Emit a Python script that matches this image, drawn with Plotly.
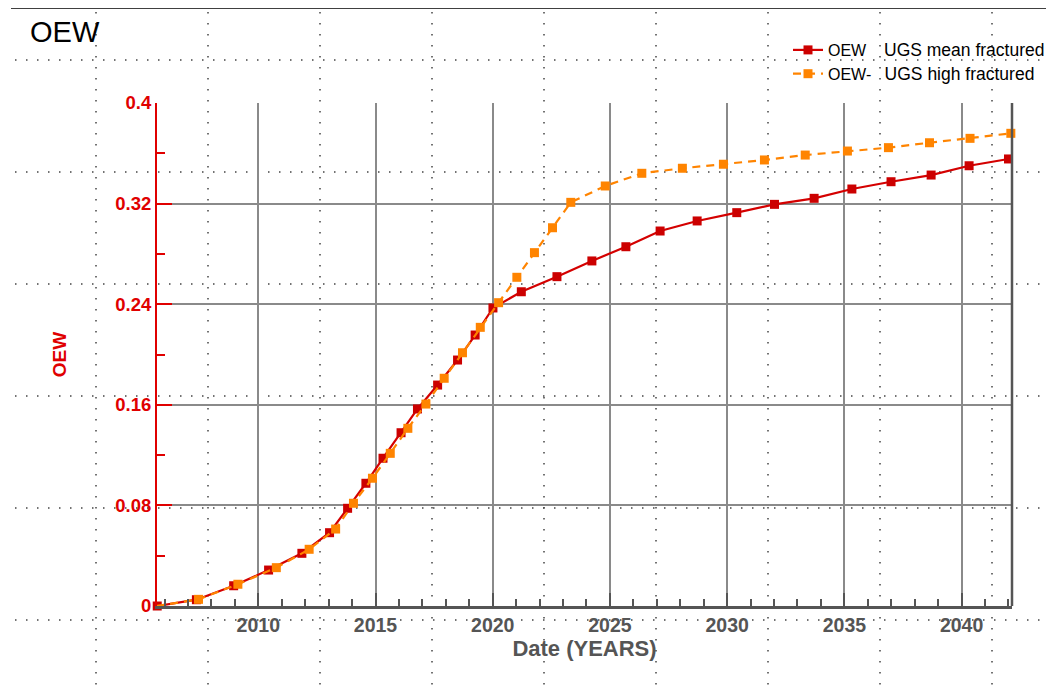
import plotly.graph_objects as go

# ---- data (decimal years, OEW fraction) ----
mean_years = [2005.69, 2007.36, 2008.95, 2010.44, 2011.86, 2013.04, 2013.81, 2014.59,
              2015.32, 2016.09, 2016.79, 2017.65, 2018.50, 2019.25, 2020.01, 2021.22,
              2022.74, 2024.23, 2025.68, 2027.14, 2028.72, 2030.41, 2032.02, 2033.71,
              2035.32, 2036.99, 2038.70, 2040.32, 2042.00]
mean_oew = [0.0, 0.005, 0.0161, 0.0286, 0.0419, 0.0583, 0.0777, 0.0976,
            0.1175, 0.1378, 0.1567, 0.1757, 0.1956, 0.2155, 0.2370, 0.2499,
            0.2619, 0.2744, 0.2857, 0.2982, 0.3062, 0.3128, 0.3194, 0.3242,
            0.3316, 0.3374, 0.3427, 0.3501, 0.3555]

high_years = [2005.65, 2007.45, 2009.13, 2010.77, 2012.17, 2013.30, 2014.06, 2014.87,
              2015.63, 2016.38, 2017.15, 2017.93, 2018.71, 2019.47, 2020.25, 2021.03,
              2021.78, 2022.55, 2023.33, 2024.80, 2026.36, 2028.09, 2029.84, 2031.59,
              2033.33, 2035.13, 2036.88, 2038.63, 2040.36, 2042.10]
high_oew = [0.0, 0.0053, 0.0173, 0.0305, 0.0451, 0.0612, 0.0817, 0.1016,
            0.1214, 0.1413, 0.1606, 0.1811, 0.2014, 0.2216, 0.2412, 0.2614,
            0.2810, 0.3008, 0.3210, 0.3340, 0.3441, 0.3481, 0.3513, 0.3547,
            0.3586, 0.3618, 0.3645, 0.3684, 0.3719, 0.3759]

series_names = [
    "OEW\u00a0\u00a0\u00a0\u00a0<span style='font-size:17.5px'>UGS mean fractured</span>",
    "OEW-\u00a0\u00a0\u00a0<span style='font-size:17.5px'>UGS high fractured</span>",
]

# ---- layout constants (reference-page pixels) ----
PAGE_OFF = 8                      # browser body margin
W, H = 1054, 693
L, R, T, B = 157, 1012, 103, 606
X_RANGE = [2005.68, 2042.15]
Y_RANGE = [0, 0.4]

RED = "#d40000"
RED_TXT = "#e00000"
ORANGE = "#ff8400"
GREY = "#555555"
GRID = "#8a8a8a"
FONT = "Arial, Liberation Sans, sans-serif"


def px_x(px):
    return (px - L) / (R - L)


def px_y(py):
    return (B - py) / (B - T)


fig = go.Figure()
fig.add_trace(go.Scatter(
    x=mean_years, y=mean_oew, name=series_names[0], mode="lines+markers",
    line=dict(color=RED, width=2.2),
    marker=dict(symbol="square", size=9, color="#cc0000"),
    cliponaxis=False,
))
fig.add_trace(go.Scatter(
    x=high_years, y=high_oew, name=series_names[1], mode="lines+markers",
    line=dict(color=ORANGE, width=2.2, dash="8px,6px"),
    marker=dict(symbol="square", size=9, color=ORANGE),
    cliponaxis=False,
))

shapes = []
# page dotted overlay grid
DOT_X0, DOT_Y0, DOT_STEP = 96, 60, 112
dot_line = dict(color="#444444", width=1.5, dash="1.5px,9.5px")
for k in range(9):
    xp = DOT_X0 + k * DOT_STEP
    shapes.append(dict(type="line", xref="paper", yref="paper", layer="below",
                       x0=px_x(xp), x1=px_x(xp), y0=px_y(12), y1=px_y(H),
                       line=dot_line))
for k in range(6):
    yp = DOT_Y0 + k * DOT_STEP
    shapes.append(dict(type="line", xref="paper", yref="paper", layer="below",
                       x0=px_x(15), x1=px_x(W), y0=px_y(yp), y1=px_y(yp),
                       line=dot_line))
# top black rule
shapes.append(dict(type="line", xref="paper", yref="paper",
                   x0=px_x(11), x1=px_x(W), y0=px_y(8), y1=px_y(8),
                   line=dict(color="#000000", width=1.5)))
# right frame edge
shapes.append(dict(type="line", xref="paper", yref="paper",
                   x0=1, x1=1, y0=0, y1=1,
                   line=dict(color=GREY, width=2.5)))

FW, FH = W - PAGE_OFF, H - PAGE_OFF
fig.update_layout(
    width=FW, height=FH,
    margin=dict(l=L - PAGE_OFF, r=W - R, t=T - PAGE_OFF, b=H - B, autoexpand=False),
    paper_bgcolor="white", plot_bgcolor="rgba(0,0,0,0)",
    font=dict(family=FONT),
    title=dict(text="OEW", font=dict(size=29, color="#000000", family=FONT),
               xref="container", yref="container", x=(30 - PAGE_OFF) / FW, xanchor="left",
               y=1 - (32 - PAGE_OFF) / FH, yanchor="middle"),
    showlegend=True,
    legend=dict(x=px_x(788), y=px_y(33), xanchor="left", yanchor="top",
                bgcolor="rgba(0,0,0,0)", font=dict(size=16, color="#000000", family=FONT),
                tracegroupgap=0, itemwidth=30),
    shapes=shapes,
)

fig.update_xaxes(
    range=X_RANGE, tickmode="linear", tick0=2010, dtick=5,
    showgrid=True, gridcolor=GRID, gridwidth=1.5, zeroline=False,
    showline=True, linecolor=GREY, linewidth=3, mirror=False,
    ticks="inside", ticklen=13, tickwidth=2, tickcolor=GREY,
    minor=dict(tick0=2010, dtick=1, ticks="inside", ticklen=7, tickwidth=1.5,
               tickcolor=GREY, showgrid=False),
    tickfont=dict(size=19.5, color=GREY, family=FONT, weight="bold"),
    title=dict(text="Date (YEARS)", standoff=5,
               font=dict(size=22, color=GREY, family=FONT, weight="bold")),
)

fig.update_yaxes(
    range=Y_RANGE, tickmode="linear", tick0=0, dtick=0.08,
    showgrid=True, gridcolor=GRID, gridwidth=1.5, zeroline=False,
    showline=True, linecolor=RED_TXT, linewidth=2, mirror=False,
    ticks="inside", ticklen=15, tickwidth=2, tickcolor=RED_TXT,
    minor=dict(tick0=0, dtick=0.04, ticks="inside", ticklen=8, tickwidth=1.5,
               tickcolor=RED_TXT, showgrid=False),
    tickfont=dict(size=18.5, color=RED_TXT, family=FONT, weight="bold"),
    title=dict(text="OEW", standoff=44,
               font=dict(size=19, color=RED_TXT, family=FONT, weight="bold")),
)

fig.write_html("out.html")
